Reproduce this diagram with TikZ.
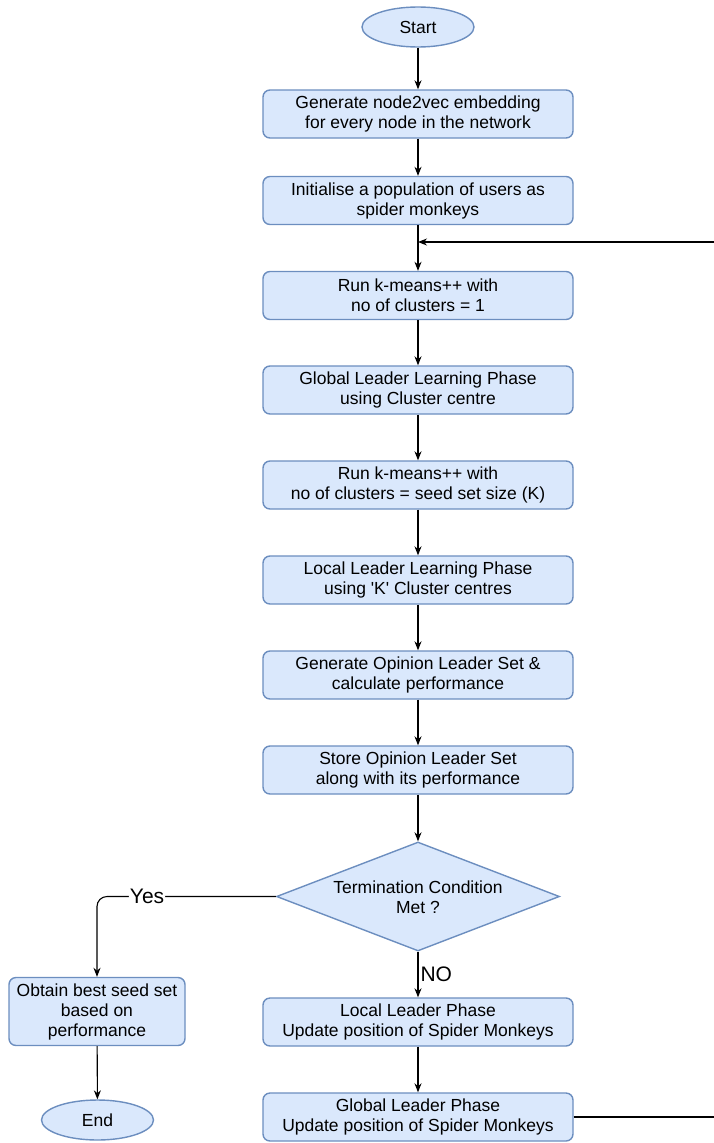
\documentclass[tikz,border=0pt]{standalone}
\usepackage{fontspec}
\setmainfont{Liberation Sans}
\usetikzlibrary{shapes.geometric,arrows.meta}
\definecolor{fillc}{HTML}{DAE8FC}
\definecolor{bordc}{HTML}{6C8EBF}
\begin{document}
\begin{tikzpicture}[x=1pt,y=1pt,
  txt/.style={font=\fontsize{17.5}{20}\selectfont},
  proc/.style={txt,draw=bordc,fill=fillc,rounded corners=7pt,line width=1.4pt,
    minimum width=310pt,minimum height=48pt,align=center,inner sep=0pt},
  lproc/.style={proc,minimum width=176pt,minimum height=68pt},
  term/.style={txt,ellipse,draw=bordc,fill=fillc,line width=1.4pt,
    minimum width=112pt,minimum height=40pt,inner sep=0pt},
  dec/.style={diamond,draw=bordc,fill=fillc,line width=1.4pt,
    minimum width=283pt,minimum height=109pt,inner sep=0pt},
  arr/.style={-{Stealth[length=9pt,width=7pt]},line width=1.1pt,black},
  lbl/.style={font=\fontsize{21}{24}\selectfont,fill=white,inner sep=1pt}
]
\useasboundingbox (0,0) rectangle (713,-1143);
\node[term] (start) at (418,-27) {Start};
\node[proc] (b1) at (418,-114) {Generate node2vec embedding\\for every node in the network};
\node[proc] (b2) at (418,-200.5) {Initialise a population of users as\\spider monkeys};
\node[proc] (b3) at (418,-295.5) {Run k-means++ with\\no of clusters = 1};
\node[proc] (b4) at (418,-390) {Global Leader Learning Phase\\using Cluster centre};
\node[proc] (b5) at (418,-485) {Run k-means++ with\\no of clusters = seed set size (K)};
\node[proc] (b6) at (418,-580) {Local Leader Learning Phase\\using \textquotesingle K\textquotesingle\ Cluster centres};
\node[proc] (b7) at (418,-675) {Generate Opinion Leader Set \&\\calculate performance};
\node[proc] (b8) at (418,-770) {Store Opinion Leader Set\\along with its performance};
\node[dec] (d) at (418,-896.5) {};
\node[txt,align=center] (dt) at (418,-897) {Termination Condition\\Met ?};
\node[proc] (loc) at (418,-1022) {Local Leader Phase\\Update position of Spider Monkeys};
\node[proc] (glo) at (418,-1117) {Global Leader Phase\\Update position of Spider Monkeys};
\node[lproc] (best) at (97,-1011.5) {Obtain best seed set\\based on\\performance};
\node[term] (end) at (97.5,-1120) {End};
\coordinate (merge) at (418,-242);
\coordinate (rt) at (720,-1117);

\draw[arr] (start) -- (b1);
\draw[arr] (b1) -- (b2);
\draw[arr] (b2) -- (b3);
\draw[arr] (b3) -- (b4);
\draw[arr] (b4) -- (b5);
\draw[arr] (b5) -- (b6);
\draw[arr] (b6) -- (b7);
\draw[arr] (b7) -- (b8);
\draw[arr] (b8) -- (d);
\draw[arr] (d.south) -- (loc.north) node[midway,right,lbl,fill=none,inner sep=2pt] {NO};
\draw[arr] (loc) -- (glo);
\draw[arr,rounded corners=10pt] (d.west) -| (best.north) node[pos=0.36,lbl] {Yes};
\draw[arr] (best) -- (end);
\draw[arr] (glo.east) -- (rt) |- (merge);
\end{tikzpicture}
\end{document}
